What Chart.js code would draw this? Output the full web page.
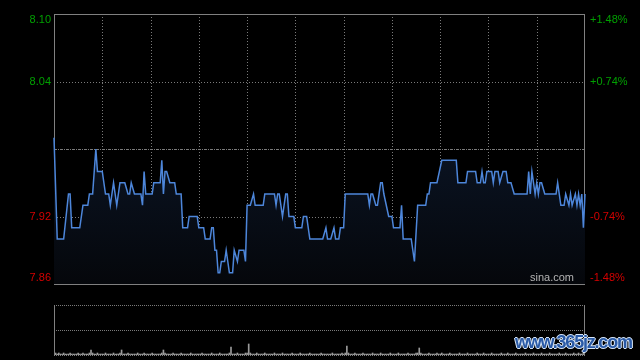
<!DOCTYPE html>
<html>
<head>
<meta charset="utf-8">
<script src="https://cdn.jsdelivr.net/npm/chart.js@4.4.0/dist/chart.umd.min.js"></script>
<style>
  html, body { margin: 0; padding: 0; background: #000; width: 640px; height: 360px; overflow: hidden; }
  canvas { position: absolute; left: 0; top: 0; }
  #mark { position: absolute; left: 515px; top: 332px; font: bold 18px "Liberation Sans", Arial, sans-serif; letter-spacing: -1.2px;
          color: #2a5aa6; text-shadow: -1px 0 #d8e6f7, 1px 0 #d8e6f7, 0 -1px #d8e6f7, 0 1px #d8e6f7; }
</style>
</head>
<body>
<canvas id="price" width="640" height="360"></canvas>
<canvas id="vol" width="640" height="360"></canvas>
<div id="mark">www.365jz.com</div>
<script>
// intraday (minute index from open, price)
const minutes = [0,2,6,9,10,11,16,18,21,22,24,26,27,30,32,34,35,37,39,41,44,46,47,48,50,54,55,56,57,61,62,66,67,68,69,70,72,75,76,79,80,83,84,89,90,93,94,97,98,99,100,101,102,103,104,106,107,108,109,111,112,114,115,118,119,120,122,124,125,130,131,137,138,139,140,142,144,145,146,149,150,154,155,157,159,167,169,170,172,174,175,177,178,180,181,195,196,197,198,200,201,203,204,205,208,210,211,215,216,217,222,224,226,231,232,233,234,238,241,250,251,256,257,262,263,265,266,267,268,269,272,273,274,276,277,279,281,282,284,286,294,295,296,297,299,300,301,302,303,305,312,313,315,317,318,320,321,322,324,325,326,327,328,329,330];
const prices  = [7.99,7.90,7.90,7.94,7.94,7.91,7.91,7.93,7.93,7.94,7.94,7.98,7.96,7.96,7.94,7.94,7.93,7.95,7.93,7.95,7.95,7.94,7.94,7.95,7.94,7.94,7.93,7.96,7.94,7.94,7.95,7.95,7.97,7.94,7.96,7.96,7.95,7.95,7.94,7.94,7.91,7.91,7.92,7.92,7.91,7.91,7.90,7.90,7.91,7.91,7.89,7.89,7.87,7.87,7.88,7.88,7.89,7.88,7.87,7.87,7.89,7.88,7.89,7.89,7.88,7.93,7.93,7.94,7.93,7.93,7.94,7.94,7.93,7.94,7.94,7.92,7.94,7.94,7.92,7.92,7.91,7.91,7.92,7.92,7.90,7.90,7.91,7.90,7.90,7.91,7.90,7.90,7.91,7.91,7.94,7.94,7.93,7.94,7.94,7.93,7.93,7.95,7.95,7.94,7.92,7.92,7.91,7.91,7.93,7.90,7.90,7.88,7.93,7.93,7.94,7.94,7.95,7.95,7.97,7.97,7.95,7.95,7.96,7.96,7.95,7.95,7.96,7.95,7.95,7.96,7.96,7.95,7.96,7.96,7.95,7.96,7.96,7.95,7.95,7.94,7.94,7.96,7.94,7.96,7.94,7.95,7.94,7.95,7.95,7.94,7.94,7.95,7.93,7.93,7.94,7.93,7.94,7.93,7.94,7.93,7.94,7.93,7.94,7.91,7.94];

// per-minute volume (relative), 0..330
const volumes = [
  3,2,1,2,1,1,2,1,1,1,2,1,1,1,1,2,1,1,2,1,1,1,2,5,2,1,1,2,1,1,
  1,1,2,1,1,1,1,2,1,1,1,2,5,1,1,1,2,1,1,1,1,1,2,1,1,1,2,1,1,1,
  1,2,1,1,1,1,1,2,5,2,1,1,1,1,2,1,1,1,1,2,1,1,1,1,1,2,1,1,1,1,
  1,1,2,1,1,1,1,1,2,1,1,1,1,2,1,1,1,1,1,2,8,1,1,1,2,1,1,1,1,2,
  2,11,2,1,1,1,2,1,1,1,1,2,1,1,1,1,1,2,1,1,1,1,2,1,1,1,1,1,2,1,
  1,1,1,2,1,1,1,1,1,2,1,1,1,1,1,1,2,1,1,1,1,1,1,2,1,1,1,1,1,2,
  1,2,9,2,1,1,1,2,1,1,1,1,2,1,1,1,1,1,2,1,1,1,1,2,1,1,1,1,1,2,
  1,1,1,1,2,1,1,1,1,1,2,1,1,1,1,2,2,7,2,1,1,1,1,2,1,1,1,1,2,1,
  1,2,1,1,1,1,2,1,1,1,1,1,2,1,1,1,1,2,1,1,1,1,1,2,1,1,1,2,1,1,
  1,1,2,1,1,1,1,1,2,1,1,1,2,1,1,1,1,2,1,1,1,1,1,2,1,1,1,1,2,1,
  1,1,1,2,1,1,1,1,2,1,1,1,1,1,2,1,1,1,2,1,1,1,1,2,1,1,2,1,1,2,
  2
];

const priceTicks = [8.10, 8.04, 7.98, 7.92, 7.86];
const leftLabels = ['8.10', '8.04', '', '7.92', '7.86'];
const rightLabels = ['+1.48%', '+0.74%', '', '-0.74%', '-1.48%'];
const prevClose = 7.98;
const timeGrid = [30, 60, 90, 120, 150, 180, 210, 240, 270, 300];
const sessionEnd = 330;

const GREEN = '#00a000', RED = '#d40000', GRID = '#7a7a7a';

function hline(ctx, x1, x2, y, dash) {
  ctx.setLineDash(dash); ctx.beginPath();
  ctx.moveTo(x1, Math.round(y) + 0.5); ctx.lineTo(x2, Math.round(y) + 0.5); ctx.stroke();
}
function vline(ctx, x, y1, y2, dash) {
  ctx.setLineDash(dash); ctx.beginPath();
  ctx.moveTo(Math.round(x) + 0.5, y1); ctx.lineTo(Math.round(x) + 0.5, y2); ctx.stroke();
}

const priceFrame = {
  id: 'priceFrame',
  beforeDatasetsDraw(chart) {
    const {ctx, chartArea: a, scales: {x, y}} = chart;
    ctx.save();
    ctx.strokeStyle = GRID; ctx.lineWidth = 1;
    timeGrid.forEach(t => vline(ctx, x.getPixelForValue(t), a.top, a.bottom, [1, 2]));
    priceTicks.forEach(p => {
      if (p === priceTicks[0] || p === priceTicks[priceTicks.length - 1]) return;
      const dash = p === prevClose ? [3, 1, 1, 1] : [1, 2];
      hline(ctx, a.left, a.right, y.getPixelForValue(p), dash);
    });
    ctx.strokeStyle = '#808080'; ctx.setLineDash([]);
    ctx.strokeRect(Math.round(a.left) + 0.5, Math.round(a.top) + 0.5, Math.round(a.right - a.left) - 1, Math.round(a.bottom - a.top));
    ctx.restore();
  },
  afterDraw(chart) {
    const {ctx, chartArea: a, scales: {y}} = chart;
    ctx.save();
    ctx.font = '11px "Liberation Sans", Arial, sans-serif';
    ctx.textBaseline = 'middle';
    priceTicks.forEach((p, i) => {
      let py = y.getPixelForValue(p);
      if (i === 0) py += 6;
      if (i === priceTicks.length - 1) py -= 6;
      ctx.fillStyle = p > prevClose ? GREEN : RED;
      ctx.textAlign = 'right'; ctx.fillText(leftLabels[i], a.left - 3, py);
      ctx.textAlign = 'left'; ctx.fillText(rightLabels[i], a.right + 5, py);
    });
    ctx.fillStyle = '#b4b4b4'; ctx.textAlign = 'right';
    ctx.fillText('sina.com', a.right - 11, a.bottom - 6);
    ctx.restore();
  }
};

const volFrame = {
  id: 'volFrame',
  afterDraw(chart) {
    const {ctx, chartArea: a} = chart;
    ctx.save();
    ctx.strokeStyle = GRID; ctx.lineWidth = 1;
    hline(ctx, a.left, a.right, a.top, [1, 1]);
    hline(ctx, a.left, a.right, (a.top + a.bottom) / 2, [1, 1]);
    hline(ctx, a.left, a.right, a.bottom, [1, 1]);
    ctx.strokeStyle = '#808080';
    vline(ctx, a.left, a.top, a.bottom + 1, []);
    vline(ctx, a.right - 1, a.top, a.bottom + 1, []);
    ctx.restore();
  }
};

new Chart(document.getElementById('price'), {
  type: 'line',
  data: {
    datasets: [{
      data: minutes.map((m, i) => ({x: m, y: prices[i]})),
      borderColor: '#4d86da',
      borderWidth: 1.5,
      pointRadius: 0,
      tension: 0,
      fill: 'start',
      clip: 2,
      backgroundColor: (c) => {
        const a = c.chart.chartArea;
        if (!a) return '#0a1220';
        const g = c.chart.ctx.createLinearGradient(0, a.top, 0, a.bottom);
        g.addColorStop(0, '#12213c');
        g.addColorStop(0.5, '#0a1322');
        g.addColorStop(1, '#05070b');
        return g;
      }
    }]
  },
  options: {
    responsive: false, animation: false, devicePixelRatio: 1,
    layout: {padding: {left: 54, right: 55, top: 14, bottom: 76}},
    plugins: {legend: {display: false}, tooltip: {enabled: false}},
    scales: {
      x: {type: 'linear', min: 0, max: sessionEnd, display: false},
      y: {min: priceTicks[priceTicks.length - 1], max: priceTicks[0], display: false}
    }
  },
  plugins: [priceFrame]
});

new Chart(document.getElementById('vol'), {
  type: 'bar',
  data: {
    datasets: [{
      data: volumes.map((v, i) => ({x: i, y: v})),
      backgroundColor: '#9a9a9a',
      barThickness: 1
    }]
  },
  options: {
    responsive: false, animation: false, devicePixelRatio: 1,
    layout: {padding: {left: 54, right: 55, top: 305, bottom: 5}},
    plugins: {legend: {display: false}, tooltip: {enabled: false}},
    scales: {
      x: {type: 'linear', min: 0, max: sessionEnd, offset: false, display: false},
      y: {min: 0, max: 50, display: false}
    }
  },
  plugins: [volFrame]
});
</script>
</body>
</html>
